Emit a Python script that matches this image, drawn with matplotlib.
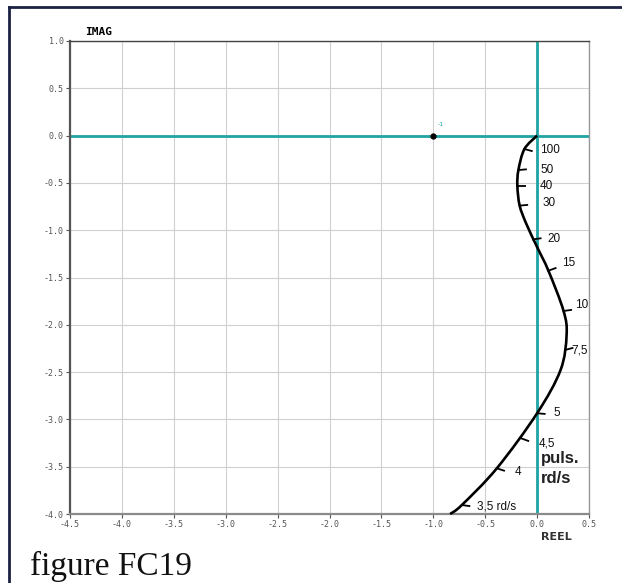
#!/usr/bin/env python3
"""Nyquist plot, figure FC19."""

import numpy as np
import matplotlib

matplotlib.use("Agg")
import matplotlib.pyplot as plt
from matplotlib.lines import Line2D
from matplotlib.path import Path
from matplotlib.patches import PathPatch

curve_re = [0.0, -0.122, -0.180, -0.190, -0.168, -0.105, 0.0, 0.109, 0.255, 0.284, 0.226,
            0.0, -0.388, -0.725, -0.838]
curve_im = [0.0, -0.142, -0.364, -0.533, -0.74, -0.93, -1.178, -1.428, -1.854, -2.108,
            -2.478, -2.935, -3.517, -3.905, -4.0]

# pulsation marks on the curve
omega_labels = ["100", "50", "40", "30", "20", "15", "10", "7,5", "5", "4,5", "4", "3,5 rd/s"]
omega_re = [-0.122, -0.180, -0.190, -0.168, -0.039, 0.109, 0.255, 0.27, 0.0, -0.154, -0.388, -0.725]
omega_im = [-0.142, -0.364, -0.533, -0.74, -1.097, -1.428, -1.854, -2.266, -2.935, -3.2, -3.517, -3.905]

ticks_x = [-4.5, -4.0, -3.5, -3.0, -2.5, -2.0, -1.5, -1.0, -0.5, 0.0, 0.5]
ticks_y = [1.0, 0.5, 0.0, -0.5, -1.0, -1.5, -2.0, -2.5, -3.0, -3.5, -4.0]

# mark stroke angle (deg) and label offsets in pixels (dx, dy)
mark_angle = [-15, 5, 0, 5, 8, 20, 8, 15, -5, -20, -18, -8]
label_off = [(16, -1), (22, 0), (22, 0), (23, 3), (14, 0), (14, 8), (11, 6), (6, -1),
             (16, 0), (18, -5), (18, -4), (15, -1)]

TEAL = "#1fa3a3"

fig = plt.figure(figsize=(6.22, 5.83), dpi=100)
ax = fig.add_axes([70 / 622, 1 - 514 / 583, 519 / 622, 473 / 583])
ax.set_xlim(-4.5, 0.5)
ax.set_ylim(-4.0, 1.0)

ax.set_xticks(ticks_x, [f"{v:.1f}" for v in ticks_x])
ax.set_yticks(ticks_y, [f"{v:.1f}" for v in ticks_y])
ax.tick_params(labelsize=6, colors="#555555", length=3, width=0.8, pad=1.5)
for lab in ax.get_xticklabels() + ax.get_yticklabels():
    lab.set_family("DejaVu Sans Mono")
ax.grid(True, color="#d0d0d0", linewidth=0.8)
ax.set_axisbelow(True)

ax.spines["left"].set_color("#555555")
ax.spines["left"].set_linewidth(1.6)
ax.spines["bottom"].set_color("#8a8a8a")
ax.spines["bottom"].set_linewidth(1.6)
ax.spines["top"].set_color("#444444")
ax.spines["top"].set_linewidth(1.0)
ax.spines["right"].set_color("#999999")
ax.spines["right"].set_linewidth(1.0)

# teal axes through the origin
ax.axhline(0.0, color=TEAL, linewidth=2.0, zorder=2)
ax.axvline(0.0, color=TEAL, linewidth=2.0, zorder=2)

# critical point -1
ax.plot([-1.0], [0.0], "o", color="black", markersize=3.5, zorder=4)
ax.annotate("-1", (-1.0, 0.0), xytext=(3, 7), textcoords="offset points",
            fontsize=4.5, color=TEAL)

# smooth curve through the read points (Catmull-Rom as cubic Bezier)
pts = np.column_stack([curve_re, curve_im])
verts = [pts[0]]
codes = [Path.MOVETO]
for i in range(len(pts) - 1):
    p0 = pts[max(i - 1, 0)]
    p1 = pts[i]
    p2 = pts[i + 1]
    p3 = pts[min(i + 2, len(pts) - 1)]
    verts += [p1 + (p2 - p0) / 6, p2 - (p3 - p1) / 6, p2]
    codes += [Path.CURVE4] * 3
ax.add_patch(PathPatch(Path(verts, codes), facecolor="none", edgecolor="black",
                       linewidth=1.9, zorder=5, clip_on=False))

# pulsation marks: short strokes to the right of the curve
inv = ax.transData.inverted()
for lab, xr, yi, ang, (dx, dy) in zip(omega_labels, omega_re, omega_im, mark_angle, label_off):
    p = ax.transData.transform((xr, yi))
    d = np.array([np.cos(np.radians(ang)), np.sin(np.radians(ang))])
    seg = inv.transform(np.array([p - 1 * d, p + 8.5 * d]))
    ax.plot(seg[:, 0], seg[:, 1], color="black", linewidth=1.3, zorder=5,
            solid_capstyle="butt")
    ax.annotate(lab, (xr, yi), xytext=(dx * 0.72, dy * 0.72), textcoords="offset points",
                fontsize=8.5, family="Liberation Sans", color="#111111",
                ha="left", va="center", zorder=6)

ax.text(0.035, -3.41, "puls.", fontsize=12, family="Liberation Sans", fontweight="bold",
        color="#222222", ha="left", va="center")
ax.text(0.035, -3.63, "rd/s", fontsize=12, family="Liberation Sans", fontweight="bold",
        color="#222222", ha="left", va="center")

ax.text(0.03, 1.008, "IMAG", transform=ax.transAxes, fontsize=8, fontweight="bold",
        family="DejaVu Sans Mono", ha="left", va="bottom")
ax.text(0.19, -0.049, "REEL", transform=ax.get_xaxis_transform(), fontsize=8,
        fontweight="bold", family="DejaVu Sans", color="#333333", ha="center", va="center")

# page frame and caption
fig.add_artist(Line2D([8.5 / 622, 8.5 / 622], [0, 1 - 7 / 583], color="#1b2142", linewidth=2))
fig.add_artist(Line2D([8.5 / 622, 1], [1 - 7 / 583, 1 - 7 / 583], color="#1b2142", linewidth=2))
fig.text(30 / 622, 1 - 575 / 583, "figure FC19", family="Liberation Serif", fontsize=24,
         va="baseline", ha="left", color="#111111")

fig.savefig("out.png", dpi=100)
